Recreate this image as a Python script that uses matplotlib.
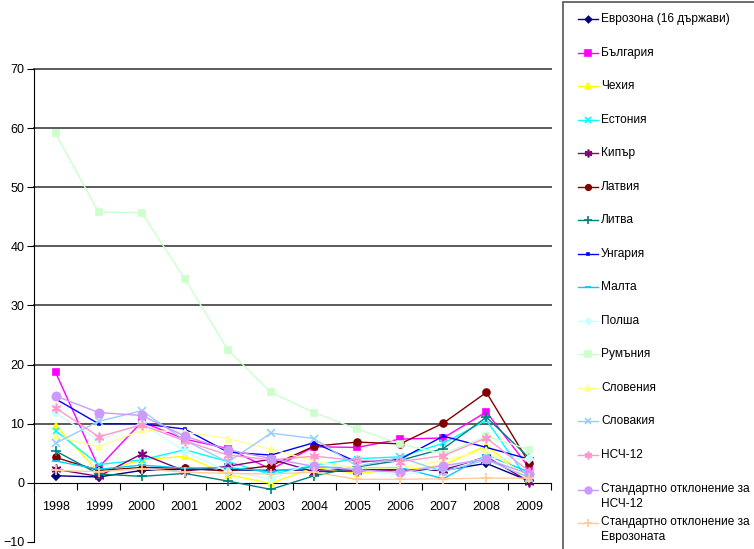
import matplotlib
matplotlib.use("Agg")
import matplotlib.pyplot as plt
from matplotlib.lines import Line2D
from matplotlib.patches import Rectangle

plt.rcParams["font.family"] = ["Liberation Sans", "DejaVu Sans"]

years = ["1998", "1999", "2000", "2001", "2002", "2003",
         "2004", "2005", "2006", "2007", "2008", "2009"]

eurozone = [1.2, 1.0, 2.1, 2.3, 2.2, 2.1, 2.2, 2.2, 2.2, 2.1, 3.3, 0.3]
bulgaria = [18.7, 2.6, 10.3, 7.4, 5.8, 2.3, 6.1, 6.0, 7.4, 7.6, 12.0, 2.5]
czechia = [9.7, 1.8, 3.9, 4.5, 1.4, -0.1, 2.6, 1.6, 2.1, 3.0, 6.3, 0.6]
estonia = [8.8, 3.1, 3.9, 5.6, 3.6, 1.4, 3.0, 4.1, 4.4, 6.7, 10.6, 0.2]
cyprus = [2.3, 1.1, 4.9, 2.0, 2.8, 4.0, 1.9, 2.0, 2.2, 2.2, 4.4, 0.2]
latvia = [4.3, 2.1, 2.6, 2.5, 2.0, 2.9, 6.2, 6.9, 6.6, 10.1, 15.3, 3.3]
lithuania = [5.4, 1.5, 1.1, 1.6, 0.3, -1.1, 1.2, 2.7, 3.8, 5.8, 11.1, 4.2]
hungary = [14.2, 10.0, 10.0, 9.1, 5.2, 4.7, 6.8, 3.5, 4.0, 7.9, 6.0, 4.0]
malta = [3.7, 2.3, 3.0, 2.5, 2.6, 1.9, 2.7, 2.5, 2.6, 0.7, 4.7, 1.8]
poland = [11.8, 7.2, 10.1, 5.3, 1.9, 0.7, 3.6, 2.2, 1.3, 2.6, 4.2, 4.0]
romania = [59.1, 45.8, 45.7, 34.5, 22.5, 15.3, 11.9, 9.1, 6.6, 4.9, 7.9, 5.6]
slovenia = [7.9, 6.1, 8.9, 8.6, 7.5, 5.7, 3.7, 2.5, 2.5, 3.8, 5.5, 0.9]
slovakia = [6.7, 10.4, 12.2, 7.2, 3.5, 8.4, 7.5, 2.8, 4.3, 1.9, 3.9, 0.9]
nms12 = [12.7, 7.8, 9.8, 7.1, 4.7, 3.9, 4.5, 3.8, 3.6, 4.6, 7.6, 1.9]
std_nms12 = [14.7, 11.9, 11.4, 7.9, 5.6, 4.1, 2.8, 2.2, 1.8, 2.9, 4.0, 1.5]
std_ez = [2.1, 1.9, 2.4, 1.8, 1.6, 1.5, 1.8, 0.6, 0.6, 0.7, 0.8, 0.8]

labels = ["Еврозона (16 държави)", "България", "Чехия", "Естония", "Кипър",
          "Латвия", "Литва", "Унгария", "Малта", "Полша", "Румъния",
          "Словения", "Словакия", "НСЧ-12",
          "Стандартно отклонение за\nНСЧ-12",
          "Стандартно отклонение за\nЕврозоната"]

series = [eurozone, bulgaria, czechia, estonia, cyprus, latvia, lithuania,
          hungary, malta, poland, romania, slovenia, slovakia, nms12,
          std_nms12, std_ez]

ASTER = (6, 2, 0)
styles = [
    ("#000080", "D", 4),
    ("#FF00FF", "s", 5),
    ("#FFFF00", "^", 5),
    ("#00FFFF", "x", 5),
    ("#800080", ASTER, 7),
    ("#800000", "o", 5),
    ("#008080", "+", 7),
    ("#0000FF", "s", 2),
    ("#00CCFF", "_", 6),
    ("#CCFFFF", "D", 4),
    ("#CCFFCC", "s", 5),
    ("#FFFF99", "^", 5),
    ("#99CCFF", "x", 6),
    ("#FF99CC", ASTER, 7),
    ("#CC99FF", "o", 6),
    ("#FFCC99", "+", 7),
]

W, H = 754, 549
fig = plt.figure(figsize=(W / 100, H / 100), dpi=100)
ax = fig.add_axes([34 / W, 7 / H, 517 / W, 473 / H])

x = list(range(len(years)))
for vals, (col, mk, ms) in zip(series, styles):
    ax.plot(x, vals, color=col, lw=1.0, marker=mk, ms=ms,
            mfc=col, mec=col, mew=1.2, zorder=3)

ax.set_xlim(-0.5, len(years) - 0.5)
ax.set_ylim(-10, 70)
ax.set_yticks(range(-10, 71, 10))
for yv in range(10, 71, 10):
    ax.axhline(yv, color="#5a5a5a", lw=1.4, zorder=1, clip_on=False)

for s in ["top", "right"]:
    ax.spines[s].set_visible(False)
ax.spines["bottom"].set_position(("data", 0))
ax.spines["bottom"].set_color("black")
ax.spines["left"].set_color("black")

ax.set_xticks([i - 0.5 for i in range(len(years) + 1)], minor=False)
ax.set_xticklabels([])
ax.set_xticks(x, minor=True)
ax.set_xticklabels(years, minor=True)
ax.tick_params(axis="x", which="major", direction="out", length=5, color="black")
ax.tick_params(axis="x", which="minor", length=0, pad=13, labelsize=9)
ax.tick_params(axis="y", direction="out", length=5, labelsize=9, pad=2)

# legend panel
fig.add_artist(Rectangle((563 / W, -0.02), 0.3, 1.02 - 2 / H,
                         transform=fig.transFigure, fill=False,
                         edgecolor="#555555", lw=1.2))
ys = [19, 53, 86, 120, 153, 187, 220, 254, 287, 321, 354, 388, 421, 455, 490, 523]
for lab, (col, mk, ms), yp in zip(labels, styles, ys):
    yf = 1 - yp / H
    fig.add_artist(Line2D([578 / W, 598 / W], [yf, yf], transform=fig.transFigure,
                          color=col, lw=1.0))
    fig.add_artist(Line2D([588 / W], [yf], transform=fig.transFigure,
                          color=col, marker=mk, ms=ms * 0.8, mfc=col, mec=col, mew=1.2))
    if "\n" in lab:
        fig.text(601 / W, 1 - (yp - 7) / H, lab, ha="left", va="top",
                 fontsize=8.6, linespacing=1.35)
    else:
        fig.text(601 / W, yf, lab, ha="left", va="center", fontsize=8.6)

fig.savefig("out.png", dpi=100)
